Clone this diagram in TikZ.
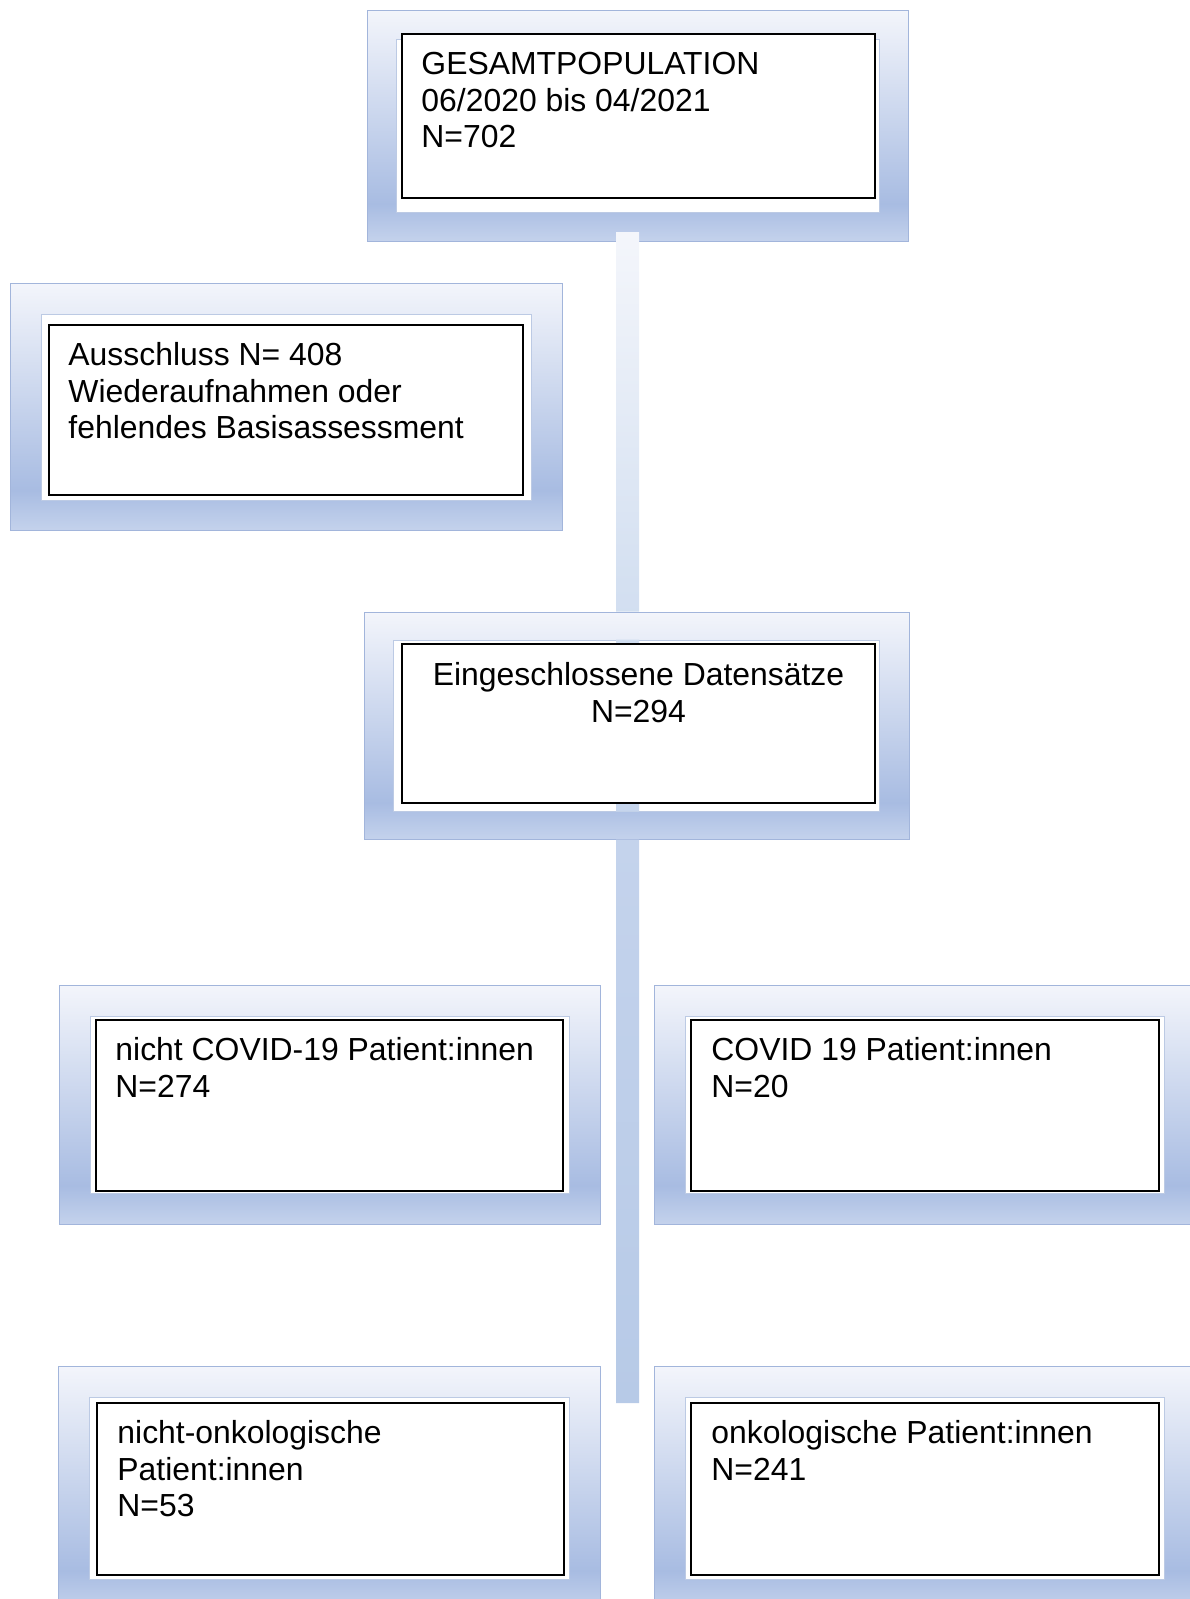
\documentclass[tikz,border=0pt]{standalone}
\usepackage{fontspec}
\setmainfont{Liberation Sans}
\usetikzlibrary{positioning}
\definecolor{boxtop}{HTML}{F3F5FB}
\definecolor{boxmid}{HTML}{A8BCE2}
\definecolor{boxlow}{HTML}{C4D2EC}
\definecolor{boxline}{HTML}{A2B5DB}
\definecolor{padline}{HTML}{BCCAE4}
\definecolor{barhi}{HTML}{F4F6FB}
\definecolor{barpale}{HTML}{D4E0F1}
\definecolor{barmid}{HTML}{C4D3EC}
\definecolor{barlow}{HTML}{B7CAE7}
\pgfdeclareverticalshading{boxshade}{100bp}{color(0bp)=(boxlow); color(25bp)=(boxlow); color(33bp)=(boxmid); color(75bp)=(boxtop); color(100bp)=(boxtop)}
\pgfdeclareverticalshading{barshade}{100bp}{color(0bp)=(barlow); color(25bp)=(barlow); color(49bp)=(barmid); color(60bp)=(barpale); color(75bp)=(barhi); color(100bp)=(barhi)}

\begin{document}
\begin{tikzpicture}[x=1pt, y=-1pt,
  boxbg/.style = {shade, shading=boxshade, draw=boxline, line width=1pt, inner sep=0pt},
  boxpad/.style = {fill=white, draw=padline, line width=1pt, inner sep=0pt},
  boxframe/.style = {fill=white, draw=black, line width=1.5pt, inner sep=0pt},
  boxtext/.style = {inner sep=0pt, align=left, font=\fontsize{31.9}{36.7}\selectfont},
  barfill/.style = {shade, shading=barshade},
  ]
  \clip (0,0) rectangle (1190,1599);
  \node[boxbg, minimum width=541pt, minimum height=231pt] (total-bg) at (637.5,125.5) {};
  \node[boxbg, minimum width=552pt, minimum height=247pt] (excl-bg) at (286,406.5) {};
  \node[boxbg, minimum width=545pt, minimum height=227pt] (incl-bg) at (636.5,725.5) {};
  \node[boxbg, minimum width=541pt, minimum height=239pt] (noncovid-bg) at (329.5,1104.5) {};
  \node[boxbg, minimum width=541pt, minimum height=239pt] (covid-bg) at (924.5,1104.5) {};
  \node[boxbg, minimum width=542pt, minimum height=244pt] (nononko-bg) at (329,1488) {};
  \node[boxbg, minimum width=541pt, minimum height=244pt] (onko-bg) at (924.5,1488) {};

  \node[boxpad, minimum width=483pt, minimum height=173pt] (total-pad) at (637.5,125.5) {};
  \node[boxpad, minimum width=490pt, minimum height=186pt] (excl-pad) at (286,407) {};
  \node[boxpad, minimum width=486pt, minimum height=171pt] (incl-pad) at (636,725.5) {};
  \node[boxpad, minimum width=479pt, minimum height=177pt] (noncovid-pad) at (329.5,1104.5) {};
  \node[boxpad, minimum width=479pt, minimum height=177pt] (covid-pad) at (924.5,1104.5) {};
  \node[boxpad, minimum width=480pt, minimum height=182pt] (nononko-pad) at (329,1488) {};
  \node[boxpad, minimum width=479pt, minimum height=182pt] (onko-pad) at (924.5,1488) {};

  \coordinate (bartop) at (627.5,232);
  \coordinate (barend) at (627.5,1403);
  \shade[barfill] ([xshift=-11.5pt]bartop) rectangle ([xshift=11.5pt]bartop |- incl-bg.north)
    ([xshift=-11.5pt]bartop |- incl-pad.north) rectangle ([xshift=11.5pt]bartop |- incl-pad.south)
    ([xshift=-11.5pt]bartop |- incl-bg.south) rectangle ([xshift=11.5pt]barend);

  \node[boxframe, minimum width=473pt, minimum height=164pt] (total) at (638.5,116) {};
  \node[boxframe, minimum width=474pt, minimum height=170pt] (excl) at (286,410) {};
  \node[boxframe, minimum width=473pt, minimum height=159pt] (incl) at (638.5,723.5) {};
  \node[boxframe, minimum width=467pt, minimum height=171pt] (noncovid) at (329.5,1105.5) {};
  \node[boxframe, minimum width=468pt, minimum height=171pt] (covid) at (925,1105.5) {};
  \node[boxframe, minimum width=467pt, minimum height=172pt] (nononko) at (330.5,1489) {};
  \node[boxframe, minimum width=468pt, minimum height=172pt] (onko) at (925,1489) {};

  \node[boxtext, below right=15.3pt and 20pt of total.north west] (total-t) {\strut GESAMTPOPULATION\\06/2020 bis 04/2021\\N=702};
  \node[boxtext, below right=15.3pt and 20pt of excl.north west] (excl-t) {\strut Ausschluss N= 408\\Wiederaufnahmen oder\\fehlendes Basisassessment};
  \node[boxtext, align=center, below=16.3pt of incl.north] (incl-t) {\strut Eingeschlossene Datensätze\\N=294};
  \node[boxtext, below right=15.3pt and 20pt of noncovid.north west] (noncovid-t) {\strut nicht COVID-19 Patient:innen\\N=274};
  \node[boxtext, below right=15.3pt and 21pt of covid.north west] (covid-t) {\strut COVID 19 Patient:innen\\N=20};
  \node[boxtext, below right=15.3pt and 21pt of nononko.north west] (nononko-t) {\strut nicht-onkologische\\Patient:innen\\N=53};
  \node[boxtext, below right=15.3pt and 21pt of onko.north west] (onko-t) {\strut onkologische Patient:innen\\N=241};
\end{tikzpicture}
\end{document}
